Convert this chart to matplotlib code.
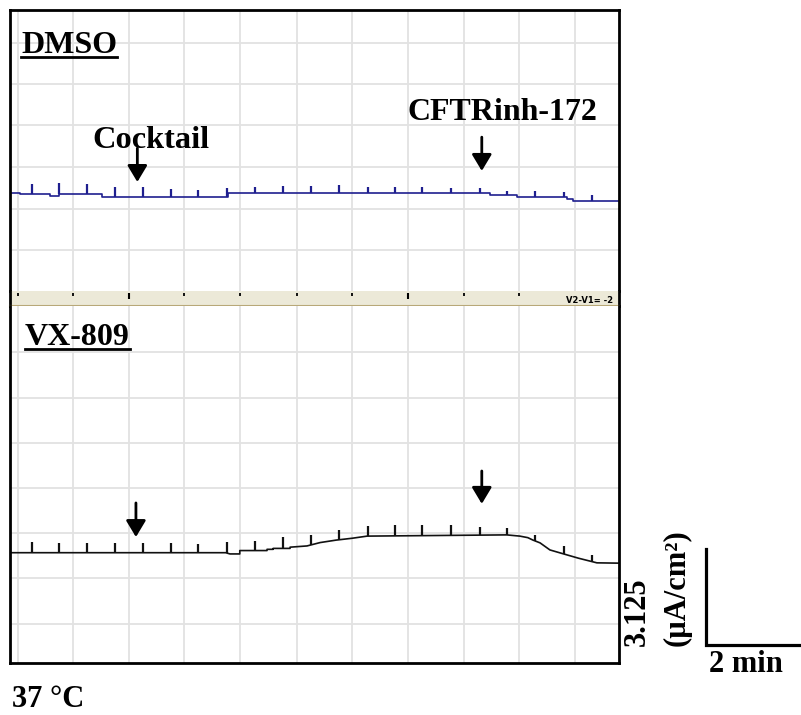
import numpy as np
import matplotlib
matplotlib.use('Agg')
import matplotlib.pyplot as plt
from matplotlib.lines import Line2D

plt.rcParams['font.family'] = ['Liberation Serif', 'DejaVu Serif']
plt.rcParams['font.weight'] = 'bold'

# time in minutes, current in uA/cm2
t_max = 12.96
top_ymax = 9.15
bot_ymax = 11.62

grid_t = [0.16, 1.35, 2.53, 3.71, 4.89, 6.10, 7.28, 8.47, 9.66, 10.83, 12.02]
top_grid_y = [1.33, 2.67, 4.05, 5.40, 6.75, 8.08]
bot_grid_y = [1.27, 2.77, 4.23, 5.70, 7.16, 8.63, 10.12]

spike_t = [0.46, 1.05, 1.64, 2.23, 2.82, 3.42, 4.01, 4.61, 5.21, 5.80, 6.40,
           7.00, 7.61, 8.19, 8.77, 9.38, 10.00, 10.58, 11.17, 11.79, 12.38]

# DMSO trace
dmso_t = [0.0, 0.21, 0.21, 0.85, 0.85, 1.04, 1.04, 1.96, 1.96, 4.64, 4.64,
          10.21, 10.21, 10.79, 10.79, 11.85, 11.85, 11.98, 11.98, 12.96]
dmso_y = [3.20, 3.20, 3.16, 3.16, 3.10, 3.10, 3.16, 3.16, 3.05, 3.05, 3.18,
          3.18, 3.13, 3.13, 3.07, 3.07, 2.99, 2.99, 2.93, 2.93]
dmso_spk = [0.33, 0.35, 0.32, 0.33, 0.33, 0.28, 0.24, 0.30, 0.20, 0.25, 0.25,
            0.27, 0.20, 0.20, 0.20, 0.16, 0.16, 0.14, 0.20, 0.16, 0.20]

# VX-809 trace
vx_t = [0.0, 4.59, 4.68, 4.89, 4.89, 5.47, 5.47, 5.60, 5.60, 5.96, 5.96,
        6.32, 6.60, 6.94, 7.28, 7.60, 10.57, 10.85, 11.02, 11.13, 11.28,
        11.49, 11.85, 12.10, 12.49, 12.96]
vx_y = [3.59, 3.59, 3.55, 3.55, 3.66, 3.66, 3.70, 3.70, 3.73, 3.73, 3.77,
        3.81, 3.92, 4.00, 4.06, 4.13, 4.17, 4.13, 4.08, 4.00, 3.91,
        3.68, 3.52, 3.41, 3.26, 3.25]
vx_spk = [0.36, 0.30, 0.30, 0.30, 0.30, 0.30, 0.28, 0.36, 0.32, 0.36, 0.33,
          0.33, 0.34, 0.35, 0.33, 0.35, 0.27, 0.22, 0.20, 0.25, 0.20]

# arrows: (t, start, tip)
dmso_arrows = [(2.71, 4.65, 3.55), (10.04, 5.01, 3.91)]
vx_arrows = [(2.68, 5.21, 4.10), (10.04, 6.25, 5.18)]

strip_long = [2.53, 8.47]
bar_min = 2
bar_cur = 3.125

W, H = 801, 715
fig = plt.figure(figsize=(W / 100, H / 100), dpi=100)

def fx(px):
    return px / W

def fy(py):
    return 1 - py / H

ax1 = fig.add_axes([fx(10), fy(291), fx(609), 281 / H])
axs = fig.add_axes([fx(10), fy(306), fx(609), 15 / H])
ax2 = fig.add_axes([fx(10), fy(663), fx(609), 357 / H])

grid_col = '#e2e2e2'
for ax, gy, ymax in [(ax1, top_grid_y, top_ymax), (ax2, bot_grid_y, bot_ymax)]:
    ax.set_xlim(0, t_max)
    ax.set_ylim(0, ymax)
    ax.vlines(grid_t, 0, ymax, color=grid_col, lw=1.3, zorder=0)
    ax.hlines(gy, 0, t_max, color=grid_col, lw=1.3, zorder=0)
    ax.set_xticks([])
    ax.set_yticks([])
    for s in ax.spines.values():
        s.set_linewidth(2.0)

ax1.spines['bottom'].set_visible(False)
ax2.spines['top'].set_visible(False)

# strip between panels
axs.set_xlim(0, t_max)
axs.set_ylim(0, 1)
axs.set_facecolor('#ece9d8')
axs.set_xticks([])
axs.set_yticks([])
axs.spines['top'].set_visible(False)
axs.spines['bottom'].set_color('#b8a878')
axs.spines['bottom'].set_linewidth(1.5)
axs.spines['left'].set_linewidth(2.0)
axs.spines['right'].set_linewidth(2.0)
axs.vlines(grid_t[:10], 0.65, 0.85, color='black', lw=1.3)
axs.vlines(strip_long, 0.45, 0.85, color='black', lw=1.5)
axs.text(0.99, 0.4, 'V2-V1= -2', transform=axs.transAxes, ha='right', va='center',
         fontsize=6, family='DejaVu Sans', weight='bold')

# traces
ax1.plot(dmso_t, dmso_y, color='#1f1f8f', lw=1.2)
b1 = np.interp(spike_t, dmso_t, dmso_y)
ax1.vlines(spike_t, b1, b1 + np.array(dmso_spk), color='#1f1f8f', lw=1.6)

ax2.plot(vx_t, vx_y, color='#111111', lw=1.2)
b2 = np.interp(spike_t, vx_t, vx_y)
ax2.vlines(spike_t, b2, b2 + np.array(vx_spk), color='#111111', lw=1.6)

arrow_kw = dict(arrowstyle='-|>,head_length=0.5,head_width=0.3', lw=2,
                color='black', mutation_scale=20, shrinkA=0, shrinkB=0)
for ax, arrows in [(ax1, dmso_arrows), (ax2, vx_arrows)]:
    for t, y0, y1 in arrows:
        ax.annotate('', xy=(t, y1), xytext=(t, y0), arrowprops=arrow_kw)

fs = 22
ax1.text(2.99, 4.65, 'Cocktail', ha='center', va='baseline', fontsize=23.3)
ax1.text(10.49, 5.57, 'CFTRinh-172', ha='center', va='baseline', fontsize=23)
lbl1 = ax1.text(11 / 609, 1 - 43 / 281, 'DMSO', transform=ax1.transAxes,
                va='baseline', fontsize=23)
lbl2 = ax2.text(15 / 609, 1 - 39 / 357, 'VX-809', transform=ax2.transAxes,
                va='baseline', fontsize=23)

# scale bar
t0, y0 = 14.81, 0.586
ax2.plot([t0, t0, t0 + bar_min], [y0 + bar_cur, y0, y0], color='black', lw=2.3,
         clip_on=False, solid_joinstyle='miter')
ax2.text(13.34, 1.66, '3.125', rotation=90, ha='center', va='center', fontsize=fs)
ax2.text(14.19, 2.44, '(µA/cm²)', rotation=90, ha='center', va='center', fontsize=fs)
ax2.text(15.66, 0.42, '2 min', ha='center', va='top', fontsize=fs)

fig.text(fx(12), fy(707), '37 °C', ha='left', va='baseline', fontsize=fs)

# underlines for panel titles
fig.canvas.draw()
r = fig.canvas.get_renderer()
for lbl, ax in [(lbl1, ax1), (lbl2, ax2)]:
    bb = lbl.get_window_extent(r)
    base = ax.transAxes.transform(lbl.get_position())[1]
    yl = base - 4
    fig.add_artist(Line2D([bb.x0 / W, bb.x1 / W], [yl / H, yl / H],
                          color='black', lw=2.0))

fig.savefig('out.png', dpi=100)
